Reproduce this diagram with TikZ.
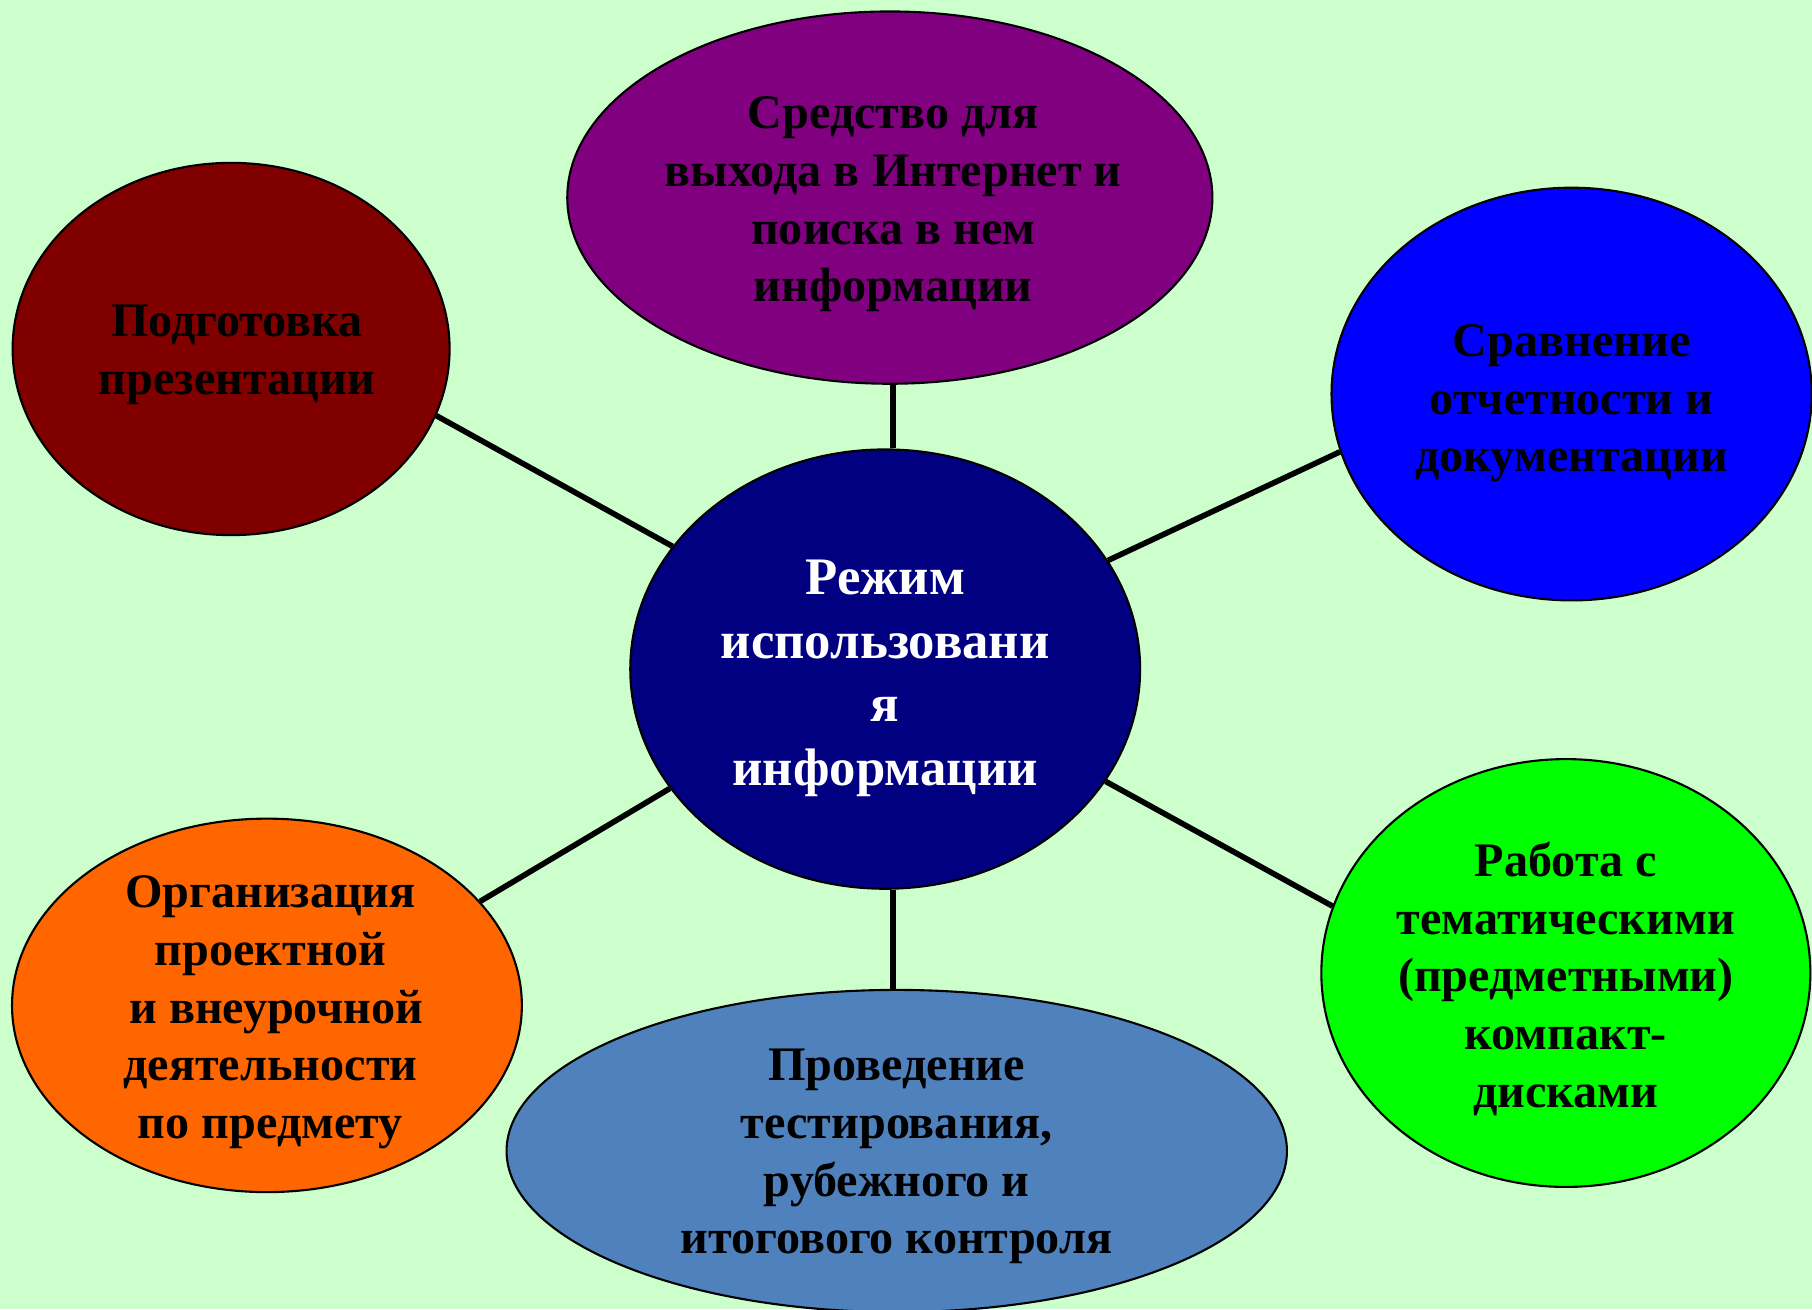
\documentclass[tikz,border=0pt]{standalone}
\usepackage{fontspec}
\setmainfont{Liberation Serif}
\usetikzlibrary{shapes.geometric}
\definecolor{bgc}{HTML}{CCFFCC}
\definecolor{cnavy}{HTML}{000080}
\definecolor{cpurple}{HTML}{800080}
\definecolor{cmaroon}{HTML}{800000}
\definecolor{cblue}{HTML}{0000FF}
\definecolor{corange}{HTML}{FF6600}
\definecolor{csteel}{HTML}{4F81BD}
\definecolor{cgreen}{HTML}{00FF00}
\tikzset{
  bubble/.style={ellipse, draw=black, line width=0.6pt, inner sep=0pt},
  txt/.style={align=center, font=\fontsize{13.7}{16.4}\selectfont\bfseries, text=black},
  ctxt/.style={align=center, font=\fontsize{15}{18.2}\selectfont\bfseries, text=white},
  link/.style={draw=black, line width=1.6pt}
}
\begin{document}
\begin{tikzpicture}[x=0.011556cm, y=-0.011556cm]
\useasboundingbox (0,0) rectangle (1568,1133);
\fill[bgc] (0,0) rectangle (1568,1133);
\clip (0,0) rectangle (1568,1133);

\node[bubble, fill=cnavy, minimum width=5.096cm, minimum height=4.391cm] (c) at (766,579) {};
\node[bubble, fill=cpurple, minimum width=6.448cm, minimum height=3.721cm] (t) at (770,171) {};
\node[bubble, fill=cmaroon, minimum width=4.368cm, minimum height=3.721cm] (tl) at (200,302) {};
\node[bubble, fill=cblue, minimum width=4.80cm, minimum height=4.125cm] (r) at (1360,341) {};
\node[bubble, fill=corange, minimum width=5.096cm, minimum height=3.733cm] (bl) at (231,870) {};
\node[bubble, fill=csteel, minimum width=7.80cm, minimum height=3.22cm] (b) at (776,996) {};
\node[bubble, fill=cgreen, minimum width=4.888cm, minimum height=4.276cm] (br) at (1355,842) {};

\draw[link] (c.150) -- (tl.-18.8);
\draw[link] (c.north) ++(7,0) coordinate (cn) (cn) -- (t.south -| cn);
\draw[link] (c.26) -- (r.194.8);
\draw[link] (c.209.8) -- (bl.26.6);
\draw[link] (c.south) ++(7,0) coordinate (cs) (cs) -- (b.north -| cs);
\draw[link] (c.-27) -- (br.164.6);

\node[ctxt] (ct) at (766,587) {Режим\\использовани\\я\\информации};
\node[txt] (tt) at (773,177) {Средство для\\выхода в Интернет и\\поиска в нем\\информации};
\node[txt] (tlt) at (205,307) {Подготовка\\презентации};
\node[txt] (rt) at (1360,349) {Сравнение\\отчетности и\\документации};
\node[txt] (blt) at (234,876) {Организация\\проектной\\\ и внеурочной\\деятельности\\по предмету};
\node[txt] (bt) at (776,1001) {Проведение\\тестирования,\\рубежного и\\итогового контроля};
\node[txt] (brt) at (1355,847) {Работа с\\тематическими\\(предметными)\\компакт-\\дисками};
\end{tikzpicture}
\end{document}
